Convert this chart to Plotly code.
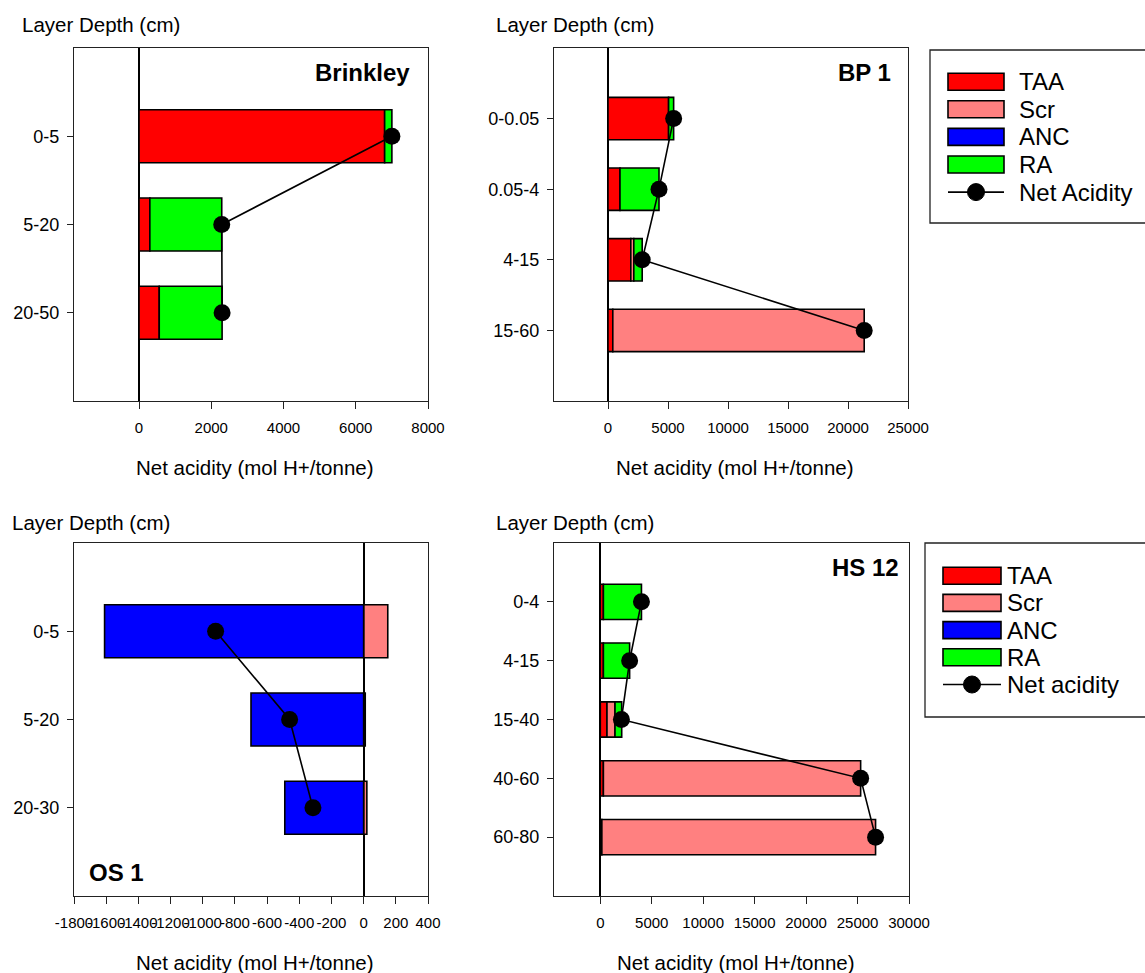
import plotly.graph_objects as go

W, H = 1145, 973
FONT = "Liberation Sans, Arial, sans-serif"

# acidity components, stacked left to right
components = ["TAA", "Scr", "ANC", "RA"]
comp_colors = ["#ff0000", "#ff8080", "#0000ff", "#00ff00"]
legend_labels_top = ["TAA", "Scr", "ANC", "RA", "Net Acidity"]
legend_labels_bottom = ["TAA", "Scr", "ANC", "RA", "Net acidity"]

# Brinkley profile (mol H+/tonne)
brinkley_depth = ["0-5", "5-20", "20-50"]
brinkley_taa = [6800, 300, 560]
brinkley_scr = [0, 0, 0]
brinkley_anc = [0, 0, 0]
brinkley_ra = [200, 1990, 1740]
brinkley_net = [7000, 2290, 2300]
brinkley_ticks = [0, 2000, 4000, 6000, 8000]

# BP 1 profile
bp1_depth = ["0-0.05", "0.05-4", "4-15", "15-60"]
bp1_taa = [5050, 1000, 1900, 400]
bp1_scr = [0, 0, 250, 20950]
bp1_anc = [0, 0, 0, 0]
bp1_ra = [420, 3250, 700, 0]
bp1_net = [5470, 4250, 2850, 21350]
bp1_ticks = [0, 5000, 10000, 15000, 20000, 25000]

# OS 1 profile (ANC counts against acidity)
os1_depth = ["0-5", "5-20", "20-30"]
os1_taa = [0, 0, 0]
os1_scr = [150, 10, 20]
os1_anc = [1610, 700, 490]
os1_ra = [0, 0, 0]
os1_net = [-920, -460, -315]
os1_ticks = [-1800, -1600, -1400, -1200, -1000, -800, -600, -400, -200, 0, 200, 400]

# HS 12 profile
hs12_depth = ["0-4", "4-15", "15-40", "40-60", "60-80"]
hs12_taa = [300, 300, 650, 300, 150]
hs12_scr = [0, 0, 780, 25000, 26600]
hs12_anc = [0, 0, 0, 0, 0]
hs12_ra = [3700, 2550, 650, 0, 0]
hs12_net = [4000, 2850, 2050, 25300, 26750]
hs12_ticks = [0, 5000, 10000, 15000, 20000, 25000, 30000]


def fx(x):
    return x / W


def fy(y):
    return 1 - y / H


panels = [
    dict(label="Brinkley", depth=brinkley_depth, taa=brinkley_taa, scr=brinkley_scr,
         anc=brinkley_anc, ra=brinkley_ra, net=brinkley_net, ticks=brinkley_ticks,
         xrange=[-1800, 8000], box=(74, 48, 428, 401),
         label_at=(412, 72, "right"), depth_at=(20, 25)),
    dict(label="BP 1", depth=bp1_depth, taa=bp1_taa, scr=bp1_scr,
         anc=bp1_anc, ra=bp1_ra, net=bp1_net, ticks=bp1_ticks,
         xrange=[-4500, 25000], box=(554, 48, 908, 401),
         label_at=(893, 72, "right"), depth_at=(494, 25)),
    dict(label="OS 1", depth=os1_depth, taa=os1_taa, scr=os1_scr,
         anc=os1_anc, ra=os1_ra, net=os1_net, ticks=os1_ticks,
         xrange=[-1800, 400], box=(74, 543, 428, 896),
         label_at=(87, 872, "left"), depth_at=(10, 522)),
    dict(label="HS 12", depth=hs12_depth, taa=hs12_taa, scr=hs12_scr,
         anc=hs12_anc, ra=hs12_ra, net=hs12_net, ticks=hs12_ticks,
         xrange=[-4500, 30000], box=(554, 543, 909, 896),
         label_at=(901, 567, "right"), depth_at=(494, 522)),
]

fig = go.Figure()
annotations = []
shapes = []

for i, p in enumerate(panels, start=1):
    suffix = "" if i == 1 else str(i)
    xa, ya = "x" + suffix, "y" + suffix
    series = [p["taa"], p["scr"], [-v for v in p["anc"]], p["ra"]]
    for name, color, vals in zip(components, comp_colors, series):
        fig.add_trace(go.Bar(
            y=p["depth"], x=[v if v else None for v in vals], orientation="h",
            name=name, marker=dict(color=color, line=dict(color="black", width=1.6)),
            xaxis=xa, yaxis=ya, showlegend=False))
    fig.add_trace(go.Scatter(
        y=p["depth"], x=p["net"], mode="lines+markers", name="Net acidity",
        line=dict(color="black", width=1.6),
        marker=dict(color="black", size=17),
        xaxis=xa, yaxis=ya, showlegend=False))

    x0, y0, x1, y1 = p["box"]
    n = len(p["depth"])
    fig.layout["xaxis" + suffix] = dict(
        domain=[fx(x0), fx(x1)], anchor=ya, range=p["xrange"], automargin=False,
        tickmode="array", tickvals=p["ticks"], ticktext=[str(t) for t in p["ticks"]],
        tickangle=0,
        showgrid=False, zeroline=True, zerolinecolor="black", zerolinewidth=1.6,
        showline=True, mirror=True, linecolor="#222", linewidth=1.3,
        ticks="outside", ticklen=7, tickcolor="#222", tickwidth=1.3,
        ticklabelstandoff=6,
        tickfont=dict(family=FONT, size=15, color="black"))
    fig.layout["yaxis" + suffix] = dict(
        domain=[fy(y1), fy(y0)], anchor=xa, type="category", automargin=False,
        categoryorder="array", categoryarray=p["depth"], range=[n, -1],
        showgrid=False, zeroline=False,
        showline=True, mirror=True, linecolor="#222", linewidth=1.3,
        ticks="outside", ticklen=6, tickcolor="#222", tickwidth=1.3,
        ticklabelstandoff=4,
        tickfont=dict(family=FONT, size=18, color="black"))

    lx, ly, anchor = p["label_at"]
    annotations.append(dict(
        x=fx(lx), y=fy(ly), xref="paper", yref="paper", text="<b>%s</b>" % p["label"],
        showarrow=False, xanchor=anchor, yanchor="middle",
        font=dict(family=FONT, size=24, color="black")))
    dx, dy = p["depth_at"]
    annotations.append(dict(
        x=fx(dx), y=fy(dy), xref="paper", yref="paper", text="Layer Depth (cm)",
        showarrow=False, xanchor="left", yanchor="middle",
        font=dict(family=FONT, size=20.5, color="black")))
    annotations.append(dict(
        x=fx((x0 + x1) / 2 + 4), y=fy(y1 + 66), xref="paper", yref="paper",
        text="Net acidity (mol H+/tonne)", showarrow=False,
        xanchor="center", yanchor="middle",
        font=dict(family=FONT, size=20.5, color="black")))


def draw_legend(box, sw_x0, sw_x1, text_x, first_y, step, labels):
    bx0, by0, bx1, by1 = box
    shapes.append(dict(type="rect", xref="paper", yref="paper",
                       x0=fx(bx0), x1=fx(bx1), y0=fy(by1), y1=fy(by0),
                       line=dict(color="#222", width=1.3), fillcolor="white", layer="below"))
    for k, lab in enumerate(labels):
        cy = first_y + k * step
        if k < len(comp_colors):
            shapes.append(dict(type="rect", xref="paper", yref="paper",
                               x0=fx(sw_x0), x1=fx(sw_x1), y0=fy(cy + 8.5), y1=fy(cy - 8.5),
                               line=dict(color="black", width=1.6), fillcolor=comp_colors[k]))
        else:
            shapes.append(dict(type="line", xref="paper", yref="paper",
                               x0=fx(sw_x0), x1=fx(sw_x1), y0=fy(cy), y1=fy(cy),
                               line=dict(color="black", width=1.6)))
            cx = (sw_x0 + sw_x1) / 2
            shapes.append(dict(type="circle", xref="paper", yref="paper",
                               x0=fx(cx - 8.5), x1=fx(cx + 8.5), y0=fy(cy + 8.5), y1=fy(cy - 8.5),
                               line=dict(color="black", width=1), fillcolor="black"))
        annotations.append(dict(
            x=fx(text_x), y=fy(cy), xref="paper", yref="paper", text=lab,
            showarrow=False, xanchor="left", yanchor="middle",
            font=dict(family=FONT, size=24, color="black")))


draw_legend((930, 50, 1152, 223), 948, 1004, 1017, 81.7, 27.6, legend_labels_top)
draw_legend((925, 543, 1152, 717), 943, 1001, 1005, 575.7, 27.2, legend_labels_bottom)

fig.update_layout(
    width=W, height=H, margin=dict(l=0, r=0, t=0, b=0, autoexpand=False),
    paper_bgcolor="white", plot_bgcolor="white",
    barmode="relative", bargap=0.4,
    font=dict(family=FONT, color="black"),
    annotations=annotations, shapes=shapes,
)

fig.write_html("out.html")
